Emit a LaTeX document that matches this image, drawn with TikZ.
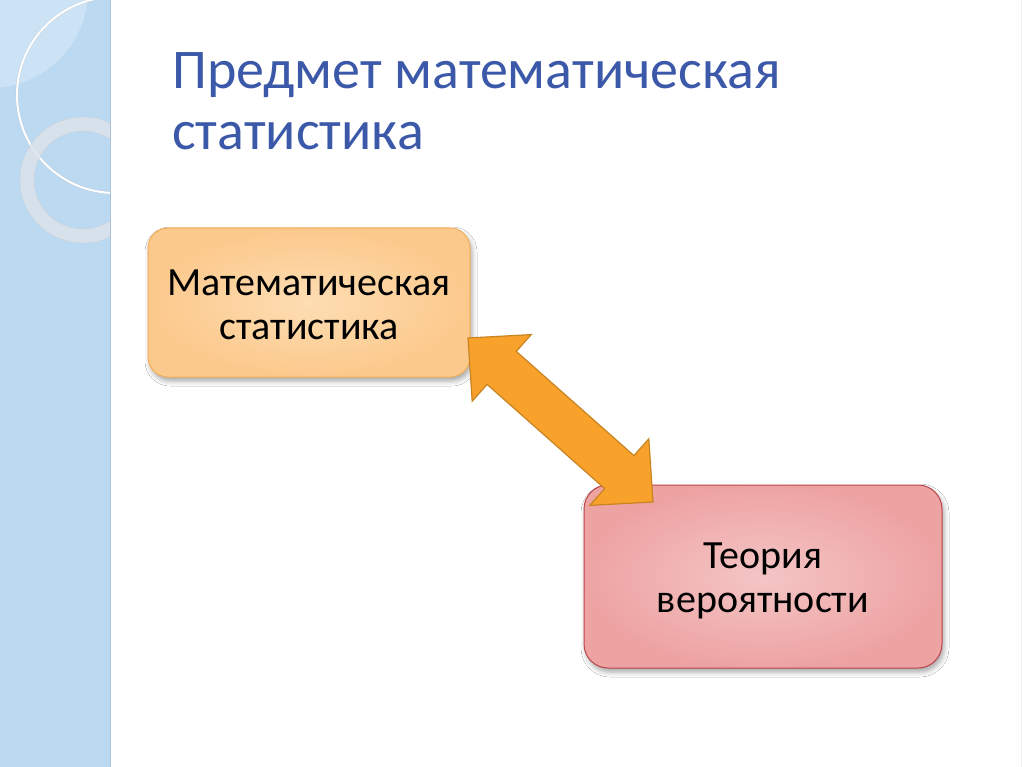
\documentclass[tikz,border=0pt]{standalone}
\usepackage{fontspec}
\setmainfont{Carlito}
\usetikzlibrary{shadows.blur}
\definecolor{stripblue}{HTML}{BCD9F2}
\definecolor{stripedge}{HTML}{A9C3DA}
\definecolor{ringcol}{HTML}{DCE3EA}
\definecolor{titleblue}{HTML}{3B59A8}
\definecolor{orinner}{HTML}{FDDDB3}
\definecolor{orouter}{HTML}{FCC98C}
\definecolor{oredge}{HTML}{F5AE58}
\definecolor{pkinner}{HTML}{F4C5C5}
\definecolor{pkouter}{HTML}{EEA3A3}
\definecolor{pkedge}{HTML}{B9454A}
\definecolor{arrfill}{HTML}{F8A12B}
\definecolor{arredge}{HTML}{C98422}
\tikzset{
  box/.style={rounded corners=20pt, align=center, inner sep=0pt,
    font=\fontsize{40}{44}\selectfont, line width=1pt,
    blur shadow={shadow xshift=2pt, shadow yshift=-4pt, shadow blur radius=5pt, shadow opacity=35}},
  titletext/.style={anchor=north west, inner sep=0pt, align=left,
    font=\fontsize{56}{61}\selectfont, text=titleblue},
  blockarrow/.style={fill=arrfill, draw=arredge, line width=1.2pt, line join=miter}
}
\begin{document}
\begin{tikzpicture}[x=1pt,y=-1pt]
\useasboundingbox (0,0) rectangle (1024,767);
\fill[white] (0,0) rectangle (1024,767);
% left decorative strip
\fill[stripblue] (0,0) rectangle (111,767);
\begin{scope}
  \clip (0,0) rectangle (110,767);
  \fill[white,opacity=0.25] (-10,-10) circle (98);
  \draw[black!25,opacity=0.4,line width=3pt] (115,95) circle (98);
  \draw[white,line width=2pt] (115,95) circle (98);
  \draw[ringcol,opacity=0.85,line width=14pt] (83,180) circle (56);
  \draw[black!20,opacity=0.5,line width=0.6pt] (83,180) circle (63) (83,180) circle (49);
\end{scope}
\draw[stripedge,line width=1.5pt] (110.5,0) -- (110.5,767);
\draw[black!6,line width=1pt] (1021,0) -- (1021,767);
% title
\node[titletext] (title) at (172,52) {Предмет математическая\\статистика};
% boxes
\node[box, draw=oredge, inner color=orinner, outer color=orouter,
      minimum width=322pt, minimum height=149pt] (ms) at (309,302.5) {\rule{0pt}{30pt}Математическая\\статистика};
\node[box, draw=pkedge, inner color=pkinner, outer color=pkouter, rounded corners=24pt,
      minimum width=358pt, minimum height=183pt] (tv) at (763,576.5) {\rule{0pt}{34pt}Теория\\вероятности};
% double block arrow
\draw[blockarrow] (468,338) -- (531.2,334.6) -- (516.3,351.4) -- (633.9,455.6)
  -- (648.8,438.8) -- (653,502) -- (589.8,505.4) -- (604.7,488.6)
  -- (487.1,384.4) -- (472.2,401.2) -- cycle;
\end{tikzpicture}
\end{document}
